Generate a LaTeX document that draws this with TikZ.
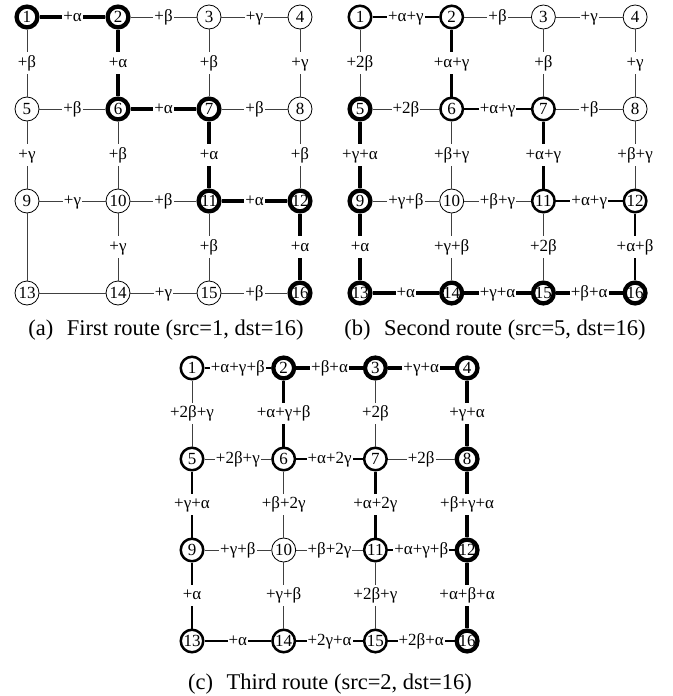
\documentclass[tikz,border=0pt]{standalone}
\usepackage{fontspec}
\setmainfont{Liberation Serif}
\newcommand\gridnodes[6]{% prefix, x0, y0, dx, dy, list
  \foreach \n/\s in {#6} {
    \pgfmathtruncatemacro\cc{mod(\n-1,4)}
    \pgfmathtruncatemacro\rr{floor((\n-1)/4)}
    \node[\s] (#1\n) at ({#2+#4*\cc},{#3+#5*\rr}) {\makebox[0pt]{\n}};
  }}
\newcommand\gridedges[2]{%
  \foreach \u/\v/\s/\l in {#2} {
    \draw[\s] (#1\u) -- (#1\v) node[lab] {\l};
  }}
\begin{document}
\begin{tikzpicture}[x=1pt,y=-1pt,
  tn/.style={circle,draw,fill=white,line width=0.8pt,minimum size=24pt,inner sep=0pt,font=\fontsize{17}{19}\selectfont},
  mn/.style={tn,line width=2.5pt,minimum size=22.5pt},
  kn/.style={tn,line width=4.3pt,minimum size=20.8pt},
  te/.style={line width=0.8pt,black!75},
  me/.style={line width=2.5pt,black},
  ke/.style={line width=4.6pt,black},
  lab/.style={midway,fill=white,text=black,inner xsep=1pt,inner ysep=2.5pt,text height=12.5pt,text depth=4pt,font=\fontsize{17}{20}\selectfont},
  captxt/.style={font=\fontsize{22.5}{25}\selectfont}
]
\useasboundingbox (0,0) rectangle (672,696);
% ---------- (a) ----------
\gridnodes{a}{27}{17}{91}{92}{1/kn,2/kn,3/tn,4/tn,5/tn,6/kn,7/kn,8/tn,9/tn,10/tn,11/kn,12/kn,13/tn,14/tn,15/tn,16/kn}
\gridedges{a}{1/2/ke/+α, 2/3/te/+β, 3/4/te/+γ, 1/5/te/+β, 2/6/ke/+α, 3/7/te/+β, 4/8/te/+γ, 5/6/te/+β, 6/7/ke/+α, 7/8/te/+β, 5/9/te/+γ, 6/10/te/+β, 7/11/ke/+α, 8/12/te/+β, 9/10/te/+γ, 10/11/te/+β, 11/12/ke/+α, 10/14/te/+γ, 11/15/te/+β, 12/16/ke/+α, 14/15/te/+γ, 15/16/te/+β}
\draw[te] (a9) -- (a13);
\draw[te] (a13) -- (a14);
\node[captxt] (capa) at (166,330) {(a)\hspace{0.6em}First route (src=1, dst=16)};
% ---------- (b) ----------
\gridnodes{b}{360}{17}{91.7}{92}{1/mn,2/mn,3/tn,4/tn,5/kn,6/mn,7/mn,8/tn,9/kn,10/tn,11/mn,12/mn,13/kn,14/kn,15/kn,16/kn}
\gridedges{b}{1/2/me/+α+γ, 2/3/te/+β, 3/4/te/+γ, 1/5/te/+2β, 2/6/me/+α+γ, 3/7/te/+β, 4/8/te/+γ, 5/6/te/+2β, 6/7/me/+α+γ, 7/8/te/+β, 5/9/ke/+γ+α, 6/10/te/+β+γ, 7/11/me/+α+γ, 8/12/te/+β+γ, 9/10/te/+γ+β, 10/11/te/+β+γ, 11/12/me/+α+γ, 9/13/ke/+α, 10/14/te/+γ+β, 11/15/te/+2β, 12/16/me/+α+β, 13/14/ke/+α, 14/15/ke/+γ+α, 15/16/ke/+β+α}
\node[captxt] (capb) at (495,330) {(b)\hspace{0.6em}Second route (src=5, dst=16)};
% ---------- (c) ----------
\gridnodes{c}{192}{368}{91.7}{91}{1/mn,2/kn,3/kn,4/kn,5/mn,6/mn,7/mn,8/kn,9/mn,10/tn,11/mn,12/kn,13/mn,14/mn,15/mn,16/kn}
\gridedges{c}{1/2/me/+α+γ+β, 2/3/ke/+β+α, 3/4/ke/+γ+α, 1/5/te/+2β+γ, 2/6/me/+α+γ+β, 3/7/te/+2β, 4/8/ke/+γ+α, 5/6/te/+2β+γ, 6/7/me/+α+2γ, 7/8/te/+2β, 5/9/me/+γ+α, 6/10/te/+β+2γ, 7/11/me/+α+2γ, 8/12/ke/+β+γ+α, 9/10/te/+γ+β, 10/11/te/+β+2γ, 11/12/me/+α+γ+β, 9/13/me/+α, 10/14/te/+γ+β, 11/15/te/+2β+γ, 12/16/ke/+α+β+α, 13/14/me/+α, 14/15/me/+2γ+α, 15/16/me/+2β+α}
\node[captxt] (capc) at (330,684) {(c)\hspace{0.6em}Third route (src=2, dst=16)};
\end{tikzpicture}
\end{document}
